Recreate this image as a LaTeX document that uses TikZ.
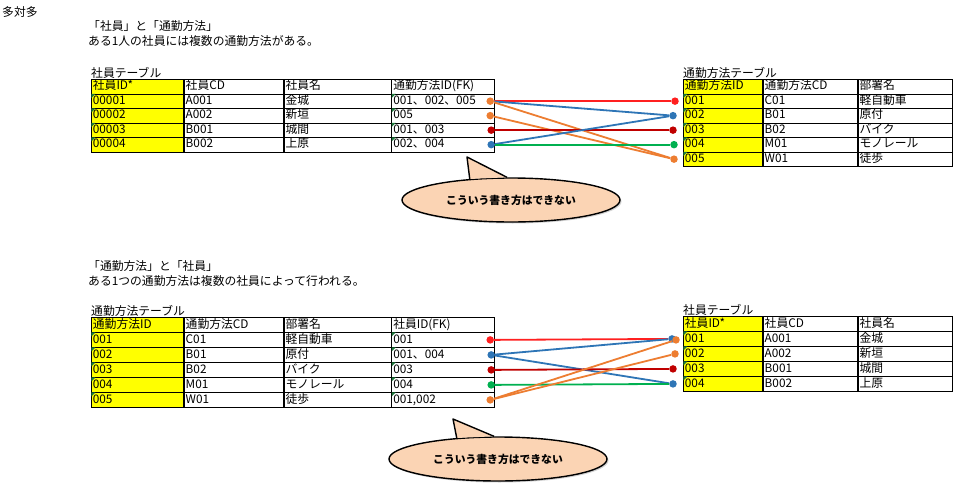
\documentclass[tikz,border=0pt]{standalone}
\usepackage{fontspec}
\setmainfont{Noto Sans CJK JP}
\usetikzlibrary{positioning,shapes.geometric,shadows}
\definecolor{CellYellow}{HTML}{FFFF00}
\definecolor{FlagGreen}{HTML}{1E7B3C}
\definecolor{LinkRed}{HTML}{FF2020}
\definecolor{LinkBlue}{HTML}{2E75B6}
\definecolor{LinkOrange}{HTML}{ED7D31}
\definecolor{LinkDark}{HTML}{C00000}
\definecolor{LinkGreen}{HTML}{00B050}
\definecolor{CalloutFill}{HTML}{FBD4B4}
\newcommand\cellfont{\fontsize{11.8}{12}\selectfont}
\newcommand\notefont{\fontsize{11.8}{13}\selectfont}
\newcommand\calloutfont{\fontsize{10.8}{12}\selectfont\bfseries}
\tikzset{
  cell/.style={
    draw,
    line width=0.8pt,
    anchor=north west,
    minimum height=14.5pt,
    inner xsep=1.5pt,
    inner ysep=0pt,
    text height=9pt,
    text depth=2.5pt,
    align=left,
    font=\cellfont
  },
  keycell/.style={cell, fill=CellYellow},
  tall/.style={minimum height=15pt},
  caption/.style={anchor=west, inner sep=0pt, font=\notefont},
  fkdot/.style={circle, fill=#1, inner sep=0pt, minimum size=7.5pt},
  link/.style={line width=1.8pt, draw=#1},
  callout/.style={
    ellipse,
    draw,
    line width=1.4pt,
    fill=CalloutFill,
    minimum width=218pt,
    minimum height=44pt,
    inner sep=0pt,
    font=\calloutfont,
    drop shadow={shadow xshift=1.5pt, shadow yshift=-1.5pt, opacity=0.35}
  },
  calloutail/.style={fill=CalloutFill, line width=1.4pt, line join=round}
}

\begin{document}
\begin{tikzpicture}[x=1pt, y=-1pt]
  \fill[white] (0,0) rectangle (969,498);
  \useasboundingbox (0,0) rectangle (969,498);

  % 社員 -> 通勤方法
  \node[caption] (head) at (2,12) {多対多};
  \node[caption] (rel1) at (88,26) {「社員」と「通勤方法」};
  \node[caption] (rel1b) at (88,41) {ある1人の社員には複数の通勤方法がある。};

  \foreach \r/\a/\b/\c/\d in {0/社員ID*/社員CD/社員名/通勤方法ID(FK),
      1/00001/A001/金城/001、002、005, 2/00002/A002/新垣/005,
      3/00003/B001/城間/001、003, 4/00004/B002/上原/002、004} {
    \node[keycell, text width=89pt] (e\r-1) at (91,{79+14.5*\r}) {\a};
    \node[cell, text width=96pt] (e\r-2) at (e\r-1.north east) {\b};
    \node[cell, text width=104pt] (e\r-3) at (e\r-2.north east) {\c};
    \node[cell, text width=100pt] (e\r-4) at (e\r-3.north east) {\d};
    \ifnum\r>0
      \fill[FlagGreen] ([shift={(0.4,0.4)}]e\r-1.north west) -- ++(4,0) -- ++(-4,4) -- cycle;
      \fill[FlagGreen] ([shift={(0.4,0.4)}]e\r-4.north west) -- ++(4,0) -- ++(-4,4) -- cycle;
    \fi
  }
  \node[caption, anchor=south west] (etab) at (e0-1.north west) {社員テーブル};

  \foreach \r/\a/\b/\c in {0/通勤方法ID/通勤方法CD/部署名, 1/001/C01/軽自動車,
      2/002/B01/原付, 3/003/B02/バイク, 4/004/M01/モノレール, 5/005/W01/徒歩} {
    \node[keycell, text width=76pt] (m\r-1) at (683,{79+14.5*\r}) {\a};
    \node[cell, text width=91pt] (m\r-2) at (m\r-1.north east) {\b};
    \node[cell, text width=91pt] (m\r-3) at (m\r-2.north east) {\c};
    \ifnum\r>0
      \fill[FlagGreen] ([shift={(0.4,0.4)}]m\r-1.north west) -- ++(4,0) -- ++(-4,4) -- cycle;
    \fi
  }
  \node[caption, anchor=south west] (mtab) at (m0-1.north west) {通勤方法テーブル};

  \node[fkdot=LinkOrange] (d1) at ([xshift=-5pt]e1-4.east) {};
  \node[fkdot=LinkOrange] (d2) at ([xshift=-5pt]e2-4.east) {};
  \node[fkdot=LinkDark] (d3) at ([xshift=-4pt]e3-4.east) {};
  \node[fkdot=LinkBlue] (d4) at ([xshift=-4pt]e4-4.east) {};
  \node[fkdot=LinkRed] (p1) at ([xshift=-8pt]m1-1.west) {};
  \node[fkdot=LinkBlue] (p2) at ([xshift=-10pt]m2-1.west) {};
  \node[fkdot=LinkDark] (p3) at ([xshift=-10pt]m3-1.west) {};
  \node[fkdot=LinkGreen] (p4) at ([xshift=-9pt]m4-1.west) {};
  \node[fkdot=LinkOrange] (p5) at ([xshift=-9pt]m5-1.west) {};

  \draw[link=LinkRed] (d1) -- (p1);
  \draw[link=LinkBlue] (d1) -- (p2);
  \draw[link=LinkOrange] (d1) -- (p5);
  \draw[link=LinkOrange] (d2) -- (p5);
  \draw[link=LinkDark] (d3) -- (p3);
  \draw[link=LinkBlue] (d4) -- (p2);
  \draw[link=LinkGreen] (d4) -- (p4);

  \node[callout] (ng1) at (511,200) {こういう書き方はできない};
  \coordinate (tip1) at (467,157);
  \filldraw[calloutail] (ng1.153) -- (tip1) -- (ng1.100);

  % 通勤方法 -> 社員
  \node[caption] (rel2) at (88,266) {「通勤方法」と「社員」};
  \node[caption] (rel2b) at (88,281) {ある1つの通勤方法は複数の社員によって行われる。};

  \foreach \r/\a/\b/\c/\d in {0/通勤方法ID/通勤方法CD/部署名/社員ID(FK),
      1/001/C01/軽自動車/001, 2/002/B01/原付/001、004, 3/003/B02/バイク/003,
      4/004/M01/モノレール/004, 5/005/W01/徒歩/{001,002}} {
    \node[keycell, tall, text width=89pt] (bm\r-1) at (91,{317+15*\r}) {\a};
    \node[cell, tall, text width=96pt] (bm\r-2) at (bm\r-1.north east) {\b};
    \node[cell, tall, text width=104pt] (bm\r-3) at (bm\r-2.north east) {\c};
    \node[cell, tall, text width=100pt] (bm\r-4) at (bm\r-3.north east) {\d};
    \ifnum\r>0
      \fill[FlagGreen] ([shift={(0.4,0.4)}]bm\r-1.north west) -- ++(4,0) -- ++(-4,4) -- cycle;
      \fill[FlagGreen] ([shift={(0.4,0.4)}]bm\r-4.north west) -- ++(4,0) -- ++(-4,4) -- cycle;
    \fi
  }
  \node[caption, anchor=south west] (bmtab) at (bm0-1.north west) {通勤方法テーブル};

  \foreach \r/\a/\b/\c in {0/社員ID*/社員CD/社員名, 1/001/A001/金城,
      2/002/A002/新垣, 3/003/B001/城間, 4/004/B002/上原} {
    \node[keycell, tall, text width=76pt] (be\r-1) at (683,{316+15*\r}) {\a};
    \node[cell, tall, text width=91pt] (be\r-2) at (be\r-1.north east) {\b};
    \node[cell, tall, text width=91pt] (be\r-3) at (be\r-2.north east) {\c};
    \ifnum\r>0
      \fill[FlagGreen] ([shift={(0.4,0.4)}]be\r-1.north west) -- ++(4,0) -- ++(-4,4) -- cycle;
    \fi
  }
  \node[caption, anchor=south west] (betab) at (be0-1.north west) {社員テーブル};

  \node[fkdot=LinkRed] (q1) at ([xshift=-5pt]bm1-4.east) {};
  \node[fkdot=LinkBlue] (q2) at ([xshift=-4pt]bm2-4.east) {};
  \node[fkdot=LinkDark] (q3) at ([xshift=-4pt]bm3-4.east) {};
  \node[fkdot=LinkGreen] (q4) at ([xshift=-4pt]bm4-4.east) {};
  \node[fkdot=LinkOrange] (q5) at ([xshift=-5pt]bm5-4.east) {};
  \node[fkdot=LinkBlue] (s1) at ([xshift=-11pt]be1-1.west) {};
  \node[fkdot=LinkOrange] (s1b) at ([xshift=-7pt, yshift=-1pt]be1-1.west) {};
  \node[fkdot=LinkOrange] (s2) at ([xshift=-8pt]be2-1.west) {};
  \node[fkdot=LinkDark] (s3) at ([xshift=-10pt]be3-1.west) {};
  \node[fkdot=LinkBlue] (s4) at ([xshift=-10pt]be4-1.west) {};

  \draw[link=LinkRed] (q1) -- (s1);
  \draw[link=LinkBlue] (q2) -- (s1);
  \draw[link=LinkBlue] (q2) -- (s4);
  \draw[link=LinkDark] (q3) -- (s3);
  \draw[link=LinkGreen] (q4) -- (s4);
  \draw[link=LinkOrange] (q5) -- (s1b);
  \draw[link=LinkOrange] (q5) -- (s2);

  \node[callout] (ng2) at (498,459) {こういう書き方はできない};
  \coordinate (tip2) at (453,419);
  \filldraw[calloutail] (ng2.153) -- (tip2) -- (ng2.100);
\end{tikzpicture}
\end{document}
